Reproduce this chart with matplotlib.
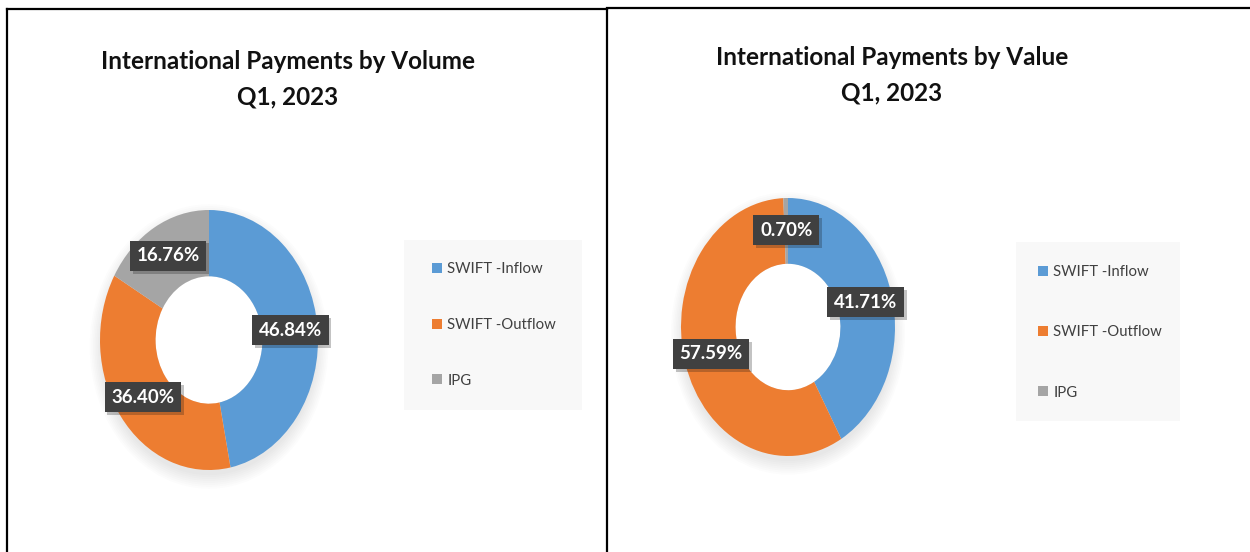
import matplotlib
matplotlib.use("Agg")
import matplotlib.pyplot as plt
import matplotlib.patheffects as pe
from matplotlib.patches import Rectangle, Ellipse
from matplotlib.lines import Line2D

# data
categories = ["SWIFT -Inflow", "SWIFT -Outflow", "IPG"]
volume_share = [46.84, 36.40, 16.76]
value_share = [41.71, 57.59, 0.70]
title_volume = "International Payments by Volume\nQ1, 2023"
title_value = "International Payments by Value\nQ1, 2023"
colors = ["#5b9bd5", "#ed7d31", "#a5a5a5"]

W, H = 1250, 552
fig = plt.figure(figsize=(12.5, 5.52), dpi=100)
fig.patch.set_facecolor("white")


def fx(px):
    return px / W


def fy(py):
    return 1 - py / H


def donut(share, cx, cy, rx, ry, title, tx, ty, leg_box, leg_off, leg_spacing):
    ax = fig.add_axes([fx(cx - rx), fy(cy + ry), 2 * rx / W, 2 * ry / H])
    # soft shadow under the ring, hole kept white
    for k in range(8):
        ax.add_patch(Ellipse((0, -0.05), 1.98 + 0.03 * k, 1.98 + 0.03 * k,
                             color="#000000", alpha=0.010, lw=0, zorder=0,
                             clip_on=False))
    ax.add_patch(Ellipse((0, 0), 0.98, 0.98, color="white", lw=0, zorder=0.5))
    wedges, texts, autotexts = ax.pie(
        share, colors=colors, startangle=90, counterclock=False, radius=1,
        wedgeprops=dict(width=0.51, edgecolor="none"),
        autopct="%.2f%%", pctdistance=0.75,
        textprops=dict(color="white", fontweight="bold", fontsize=13.5,
                       family=["Lato", "DejaVu Sans"]))
    for t in autotexts:
        t.set_bbox(dict(boxstyle="square,pad=0.35", fc="#404040", ec="none"))
        t.get_bbox_patch().set_path_effects(
            [pe.withSimplePatchShadow(offset=(2, -2), alpha=0.25), pe.Normal()])
        t.set_zorder(5)
    ax.set_aspect("auto")
    ax.set_xlim(-1, 1)
    ax.set_ylim(-1, 1)

    fig.text(fx(tx), fy(ty), title, ha="center", va="center", fontsize=17.5,
             fontweight="bold", family=["Lato", "DejaVu Sans"],
             linespacing=1.65, color="#111111")

    x0, y0, x1, y1 = leg_box
    fig.add_artist(Rectangle((fx(x0), fy(y1)), (x1 - x0) / W, (y1 - y0) / H,
                             transform=fig.transFigure, fc="#f8f8f8", ec="none",
                             zorder=0))
    ax.legend(wedges, categories, loc="upper left",
              bbox_to_anchor=(fx(x0 + leg_off[0]), fy(y0 + leg_off[1])),
              bbox_transform=fig.transFigure, frameon=False,
              handlelength=0.65, handleheight=0.65, handletextpad=0.35,
              labelspacing=leg_spacing, labelcolor="#404040",
              prop=dict(family=["Lato", "DejaVu Sans"], size=10.7))


donut(volume_share, 209, 340, 109, 130, title_volume, 288, 79,
      (404, 240, 582, 410), (15, 9), 2.8)
donut(value_share, 788, 327, 107, 129, title_value, 892, 75,
      (1016, 242, 1180, 421), (9, 10), 3.1)

# panel borders
for xs, ys in [((7, 7), (9, 560)), ((7, 607), (9, 9)), ((607, 607), (9, 560)),
               ((607, 1250), (8, 8))]:
    fig.add_artist(Line2D([fx(xs[0]), fx(xs[1])], [fy(ys[0]), fy(ys[1])],
                          transform=fig.transFigure, color="black", lw=1.6))

fig.savefig("out.png", dpi=100)
